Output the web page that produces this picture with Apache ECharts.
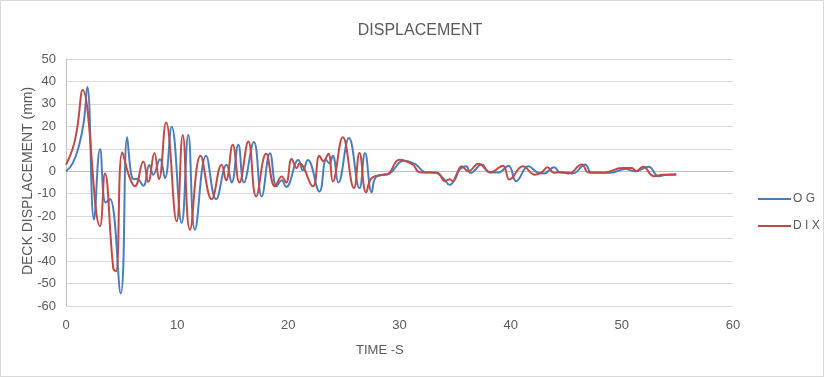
<!DOCTYPE html>
<html>
<head>
<meta charset="utf-8">
<script src="https://cdn.jsdelivr.net/npm/echarts@6/dist/echarts.min.js"></script>
<style>
html,body{margin:0;padding:0;background:#fff;}
#chart{width:825px;height:378px;}
</style>
</head>
<body>
<div id="chart"></div>
<script>
// Tick values
var xTicks = [0, 10, 20, 30, 40, 50, 60];
var yTicks = [-60, -50, -40, -30, -20, -10, 0, 10, 20, 30, 40, 50];

// OG series (time in s, displacement in mm)
var ogTime = [0, 0.6, 1.2, 1.6, 1.92, 2.52, 3.06, 3.57, 3.96, 4.92, 5.5, 5.85, 6.1, 6.4, 6.95, 7.5, 7.85, 8.45, 8.9, 9.5,
  10.4, 11.0, 11.6, 12.6, 13.5, 14.45, 14.9, 15.5, 16.0, 16.9, 17.6, 18.35, 18.95, 19.4, 19.8, 20.9, 21.3, 21.75, 22.8, 23.4,
  23.7, 24.0, 24.5, 25.45, 26.4, 26.9, 27.5, 27.9, 29.1, 30.4, 31.5, 32.3, 33.2, 33.9, 34.5, 35.4, 36.0, 36.4, 37.4, 38.1,
  38.9, 39.8, 40.5, 41.6, 42.4, 43.0, 43.9, 44.5, 45.1, 45.6, 46.7, 47.3, 49.0, 50.3, 51.2, 52.4, 53.3, 54.0, 54.9];
var ogValue = [0, 3.5, 12, 22, 37.5, -21.5, 9.9, -14, -12.4, -54.4, 15.2, -1, -3.5, -3.4, -6.5, 2.8, -1.5, 5.4, -3, 19.8,
  -23, 16.2, -26, 6.9, -12.4, 2.9, -5, 11.8, -5, 13, -11.2, 8, -6.7, -4, -7, 5, 0.5, 5, -9, 5.1,
  3.5, 6.9, -5, 14.8, -7.5, 8.1, -9.4, -2.5, -1, 4.7, 2.9, -0.4, -0.5, -3, -6, 0.7, 2.2, -0.7, 3, -0.5,
  -0.5, 2.5, -4.4, 2.2, -0.5, -1, 1.8, -0.7, -0.5, -1, 3, -0.7, -0.7, 1, 0, 2, -2.2, -1.6, -1.3];

// DIX series (time in s, displacement in mm)
var dixTime = [0, 0.6, 1.0, 1.5, 3.06, 3.5, 4.26, 4.5, 5.07, 5.7, 6.2, 6.95, 7.4, 7.95, 8.36, 9.0, 9.95, 10.5, 11.15, 12.1,
  13.1, 14.0, 14.4, 15.0, 15.6, 16.4, 17.1, 18.0, 18.8, 19.4, 19.8, 20.3, 20.75, 21.0, 22.2, 22.8, 23.15, 23.6, 24.0, 24.9,
  25.9, 26.4, 27.0, 27.5, 28.5, 29.0, 30.0, 31.2, 31.8, 33.4, 34.1, 34.5, 34.8, 35.6, 36.2, 37.1, 38.2, 39.3, 39.9, 41.1,
  42.2, 42.8, 43.3, 43.9, 44.5, 45.2, 46.4, 47.0, 48.5, 50.0, 50.9, 51.3, 51.9, 52.9, 53.7, 54.9];
var dixValue = [2.9, 10, 19, 36.2, -24.5, -1, -43.5, -44.5, 8.4, -2.5, -6.7, 4.4, -4.7, 8.1, -3.5, 21.7, -22.3, 16.2, -26, 6.9,
  -12.4, 2.9, -4, 11.8, -5, 13.3, -11.2, 7.8, -6.7, -2.3, -5, 5.5, 1.4, 3.6, -6.7, 6.9, 4.5, 7.8, -4.5, 15.2,
  -7.5, 8.1, -9.4, -3, -1.5, -1, 5.1, 2.9, -0.4, -0.7, -4.4, -3.5, -4.5, 2.2, 0, 3.4, -0.4, 2.5, -3.7, 2.2,
  -1.5, -0.5, 1.8, -0.7, -0.3, -1, 3, -0.5, -0.5, 1.5, 1.5, 0, 2, -2.2, -1.5, -1.5];

function zip(a, b) { return a.map(function (t, i) { return [t, b[i]]; }); }

var FONT = '"Liberation Sans", sans-serif';
var TXT = '#595959';

var chart = echarts.init(document.getElementById('chart'));
chart.setOption({
  animation: false,
  backgroundColor: '#fff',
  title: {
    text: 'DISPLACEMENT',
    left: 415, top: 18, textAlign: 'center',
    textStyle: { fontFamily: FONT, fontSize: 16, fontWeight: 'normal', color: TXT }
  },
  legend: {
    orient: 'vertical',
    left: 753, top: 188,
    itemWidth: 33, itemHeight: 2, itemGap: 15,
    icon: 'rect',
    textStyle: { fontFamily: FONT, fontSize: 12, color: TXT, padding: [0, 0, 0, -3] },
    data: ['O G', 'D I X']
  },
  grid: { left: 66, right: 92, top: 59, bottom: 72, containLabel: false },
  xAxis: {
    type: 'value', min: xTicks[0], max: xTicks[xTicks.length - 1], interval: 10,
    axisLine: { show: true, lineStyle: { color: '#bfbfbf', width: 1 } },
    axisTick: { show: false },
    splitLine: { show: false },
    axisLabel: { fontFamily: FONT, fontSize: 13, color: TXT, margin: 13 }
  },
  yAxis: {
    type: 'value', min: yTicks[0], max: yTicks[yTicks.length - 1], interval: 10,
    axisLine: { show: true, lineStyle: { color: '#bfbfbf', width: 1 } },
    axisTick: { show: false },
    splitLine: { show: true, lineStyle: { color: '#d9d9d9', width: 1 } },
    axisLabel: { fontFamily: FONT, fontSize: 13, color: TXT, margin: 10 }
  },
  graphic: [
    { type: 'rect', shape: { x: 0.5, y: 0.5, width: 823, height: 376 }, style: { fill: 'none', stroke: '#d9d9d9', lineWidth: 1 }, silent: true },
    { type: 'text', left: 356, top: 344, style: { text: 'TIME -S', fontFamily: FONT, fontSize: 13, fill: TXT } },
    { type: 'text', x: 28, y: 181, rotation: Math.PI / 2,
      style: { text: 'DECK DISPLACEMENT (mm)', fontFamily: FONT, fontSize: 14, fill: TXT, align: 'center', verticalAlign: 'middle' } }
  ],
  series: [
    { name: 'O G', type: 'line', data: zip(ogTime, ogValue), smooth: 0.45, showSymbol: false,
      lineStyle: { color: '#4a7ebb', width: 2 }, itemStyle: { color: '#4a7ebb' } },
    { name: 'D I X', type: 'line', data: zip(dixTime, dixValue), smooth: 0.45, showSymbol: false,
      lineStyle: { color: '#be4b48', width: 2 }, itemStyle: { color: '#be4b48' } }
  ]
});
</script>
</body>
</html>
